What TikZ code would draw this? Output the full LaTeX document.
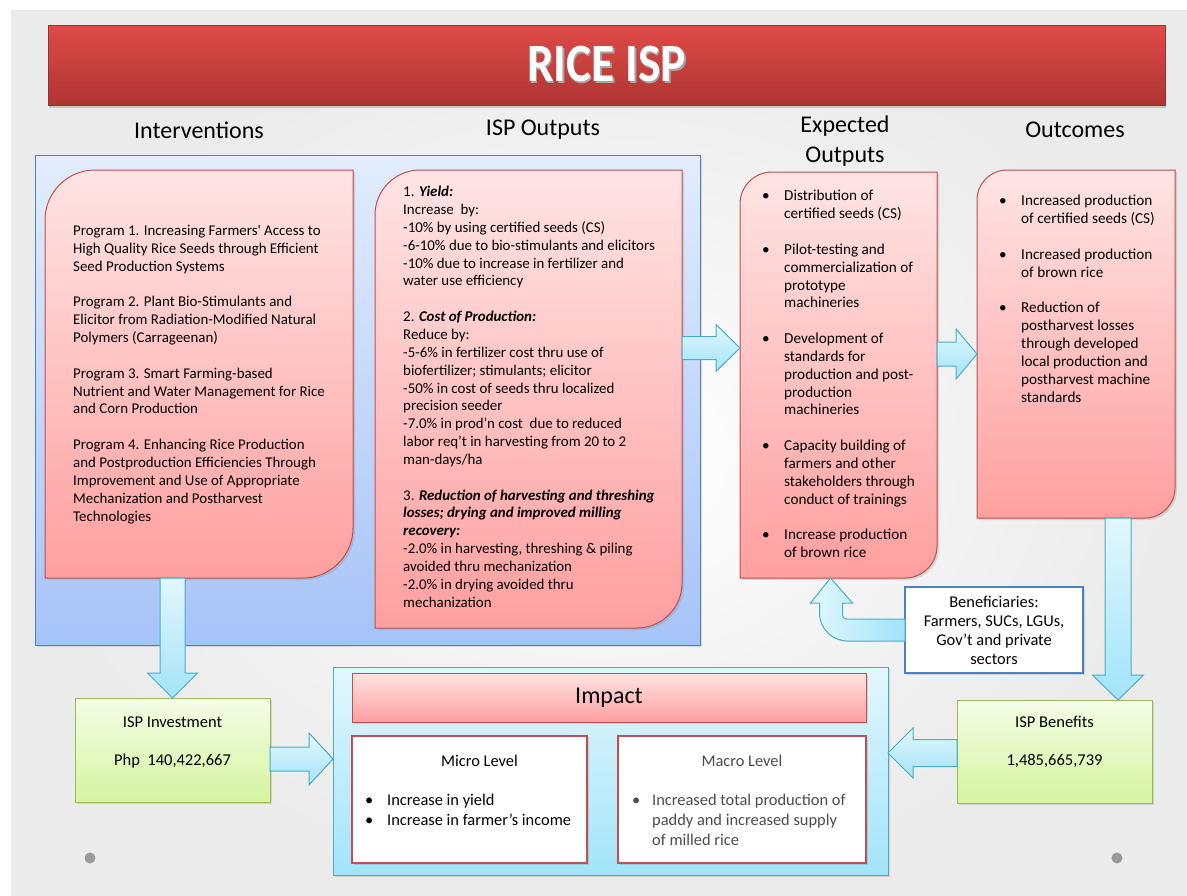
\documentclass[tikz,border=0pt]{standalone}
\usepackage{fontspec}
\setmainfont{Carlito}
\newfontfamily\bannerfont{Carlito}[FakeStretch=0.88]
\usetikzlibrary{calc,shadows}

\definecolor{redtop}{HTML}{FFE4E4}
\definecolor{redbot}{HTML}{FF9F9F}
\definecolor{redline}{HTML}{C0504D}
\definecolor{bluetop}{HTML}{E2EDFD}
\definecolor{bluebot}{HTML}{A6C3F8}
\definecolor{blueline}{HTML}{4F81BD}
\definecolor{cyantop}{HTML}{E2F7FE}
\definecolor{cyanbot}{HTML}{A2E4F9}
\definecolor{cyanline}{HTML}{4BACC6}
\definecolor{greentop}{HTML}{F4FDE6}
\definecolor{greenbot}{HTML}{D5F4A0}
\definecolor{greenline}{HTML}{9BBB59}
\definecolor{titletop}{HTML}{E04B48}
\definecolor{titlebot}{HTML}{AE3533}
\definecolor{dotgray}{HTML}{9A9A9A}

\newcommand\bodyfont{\fontsize{14.9}{17.85}\selectfont}
\newcommand\listfont{\fontsize{15.2}{17.85}\selectfont}
\newcommand\levelfont{\fontsize{16.4}{20}\selectfont}
\newcommand\bitem{\makebox[22pt][l]{\textbullet}}
\newcommand\bind{\hspace*{22pt}}

% box with rounded top-left and bottom-right corners, drawn over a named frame node
\newcommand\cornerbox[2]{%
  \path[redbox] let \p1=(#1.north west), \p2=(#1.south east) in
    ({\x1},{\y1-#2pt}) arc[start angle=180,end angle=90,radius=#2pt]
    -- ({\x2},{\y1}) -- ({\x2},{\y2+#2pt}) arc[start angle=0,end angle=-90,radius=#2pt]
    -- ({\x1},{\y2}) -- cycle;}

% horizontal block arrow: y of #1, tip at x of #2; shaft half, head half, head length
\newcommand\harrow[5]{%
  \path[blockarrow] let \p1=(#1), \p2=(#2) in
    ({\x1},{\y1+#3pt}) -- ({\x2-(#5pt)},{\y1+#3pt}) -- ({\x2-(#5pt)},{\y1+#4pt}) -- ({\x2},{\y1})
    -- ({\x2-(#5pt)},{\y1-#4pt}) -- ({\x2-(#5pt)},{\y1-#3pt}) -- ({\x1},{\y1-#3pt}) -- cycle;}

% vertical block arrow pointing down: x of #1, tip at y of #2
\newcommand\varrow[5]{%
  \path[blockarrow] let \p1=(#1), \p2=(#2) in
    ({\x1-#3pt},{\y1}) -- ({\x1-#3pt},{\y2+#5pt}) -- ({\x1-#4pt},{\y2+#5pt}) -- ({\x1},{\y2})
    -- ({\x1+#4pt},{\y2+#5pt}) -- ({\x1+#3pt},{\y2+#5pt}) -- ({\x1+#3pt},{\y1}) -- cycle;}

\begin{document}
\begin{tikzpicture}[x=1pt,y=1pt,
  frame/.style={rectangle, inner sep=0pt, outer sep=0pt, draw=none},
  softshadow/.style={drop shadow={opacity=0.25, shadow xshift=2pt, shadow yshift=-2pt}},
  redbox/.style={top color=redtop, bottom color=redbot, draw=redline, line width=1pt, softshadow},
  blockarrow/.style={top color=cyantop, bottom color=cyanbot, draw=cyanline, line width=1pt},
  heading/.style={font=\fontsize{24}{30}\selectfont, align=center, inner sep=0pt},
  body/.style={font=\bodyfont, align=left, anchor=north west, inner sep=0pt},
  boxtext/.style={font=\fontsize{16.5}{20}\selectfont, inner sep=0pt},
  bluebox/.style={frame, top color=bluetop, bottom color=bluebot, draw=blueline, line width=1pt, softshadow},
  cyanbox/.style={frame, top color=cyantop, bottom color=cyanbot, draw=cyanline, line width=1pt, softshadow},
  greenbox/.style={frame, top color=greentop, bottom color=greenbot, draw=greenline, line width=1pt, softshadow},
  pinkbar/.style={frame, top color=redtop, bottom color=redbot, draw=redline, line width=1pt, softshadow},
  whitebox/.style={frame, fill=white, line width=2.5pt, softshadow},
]
\useasboundingbox (0,0) rectangle (1187,-895);
\fill[white] (0,0) rectangle (1187,-895);
\shade[inner color=white, outer color=gray!16] (11,-10) rectangle (1187,-895);

% title banner
\node[frame, anchor=north west, minimum width=1117, minimum height=80,
      top color=titletop, bottom color=titlebot, draw=titlebot!90!black, line width=0.8pt,
      drop shadow={opacity=0.35, shadow xshift=1pt, shadow yshift=-3pt},
      font=\bannerfont\fontsize{54}{60}\selectfont\bfseries, text=white] (title) at (48,-25)
  {\rlap{\kern1.5pt\raisebox{-1.5pt}{\color{black!35}RICE ISP}}RICE ISP};

% column headings
\node[heading] (hint) at (199,-130) {Interventions};
\node[heading] (hout) at (543,-130) {ISP Outputs};
\node[heading] (hexp) at (845,-141) {Expected\\Outputs};
\node[heading] (hocm) at (1075,-130) {Outcomes};

% programme panel
\node[bluebox, anchor=north west, minimum width=665, minimum height=490] (prog) at (35,-155) {};

% frames of the rounded boxes
\node[frame, anchor=north west, minimum width=308, minimum height=408] (interv) at (45,-170) {};
\node[frame, anchor=north west, minimum width=307, minimum height=458] (outputs) at (375,-170) {};
\node[frame, anchor=north west, minimum width=197, minimum height=406] (expout) at (740,-172) {};
\node[frame, anchor=north west, minimum width=198, minimum height=348] (outcomes) at (977,-170) {};
\cornerbox{interv}{50}
\cornerbox{outputs}{45}
\cornerbox{expout}{32}
\cornerbox{outcomes}{30}

% bottom row boxes
\node[greenbox, anchor=north west, minimum width=195, minimum height=104] (invest) at (75,-698) {};
\node[greenbox, anchor=north west, minimum width=195, minimum height=103] (benefits) at (957,-700) {};
\node[cyanbox, anchor=north west, minimum width=555, minimum height=208] (impact) at (333,-667) {};
\node[pinkbar, anchor=north west, minimum width=514, minimum height=49,
      font=\fontsize{24}{26}\selectfont] (impacthead) at (352,-673) {Impact};
\node[whitebox, draw=redline, anchor=north west, minimum width=235, minimum height=127] (micro) at (352,-736) {};
\node[whitebox, draw=redline, anchor=north west, minimum width=248, minimum height=127] (macro) at (618,-736) {};
\node[whitebox, draw=blueline, anchor=north west, minimum width=178, minimum height=86,
      font=\fontsize{16.4}{19}\selectfont, align=center] (benef) at (905,-587)
  {Beneficiaries:\\Farmers, SUCs, LGUs,\\Gov’t and private\\sectors};

% block arrows between the boxes
\harrow{$(outputs.north east)+(0,-178)$}{expout.west}{11.5}{23.5}{24}
\harrow{$(expout.north east)+(0,-182)$}{outcomes.west}{12}{25}{21}
\varrow{invest.north |- interv.south}{invest.north}{12.5}{25}{25}
\varrow{$(outcomes.south east)+(-57,0)$}{benefits.north}{13}{25.5}{25}
\harrow{$(invest.east)+(0,-9)$}{impact.west}{12}{26}{24}
\harrow{$(benefits.west)+(0,-1.5)$}{impact.east}{13.5}{25}{-25}
% bent arrow from the beneficiaries back up to the expected outputs
\path[draw=cyanline, line width=1pt, left color=cyantop, right color=cyanbot]
  let \p1=($(benef.west)+(0,-1)$), \p2=($(expout.south)+(-8,0)$) in
  ({\x1},{\y1+12pt}) -- ({\x2+16pt},{\y1+12pt}) arc[start angle=270,end angle=180,radius=4pt]
  -- ({\x2+12pt},{\y2-25pt}) -- ({\x2+22pt},{\y2-25pt}) -- ({\x2},{\y2}) -- ({\x2-20pt},{\y2-25pt})
  -- ({\x2-11pt},{\y2-25pt}) -- ({\x2-11pt},{\y1+18pt}) arc[start angle=180,end angle=270,radius=28pt]
  -- ({\x1},{\y1-10pt}) -- cycle;

% texts
\node[body] (intervtxt) at (73,-225) {%
Program 1. Increasing Farmers\textquotesingle{} Access to\\
High Quality Rice Seeds through Efficient\\
Seed Production Systems\\[17.85pt]
Program 2. Plant Bio-Stimulants and\\
Elicitor from Radiation-Modified Natural\\
Polymers (Carrageenan)\\[17.85pt]
Program 3. Smart Farming-based\\
Nutrient and Water Management for Rice\\
and Corn Production\\[17.85pt]
Program 4. Enhancing Rice Production\\
and Postproduction Efficiencies Through\\
Improvement and Use of Appropriate\\
Mechanization and Postharvest\\
Technologies};

\node[body] (outputstxt) at (403,-186) {%
1. \textbf{\textit{Yield:}}\\
Increase~ by:\\
-10\% by using certified seeds (CS)\\
-6-10\% due to bio-stimulants and elicitors\\
-10\% due to increase in fertilizer and\\
water use efficiency\\[17.85pt]
2. \textbf{\textit{Cost of Production:}}\\
Reduce by:\\
-5-6\% in fertilizer cost thru use of\\
biofertilizer; stimulants; elicitor\\
-50\% in cost of seeds thru localized\\
precision seeder\\
-7.0\% in prod’n cost~ due to reduced\\
labor req’t in harvesting from 20 to 2\\
man-days/ha\\[17.85pt]
3. \textbf{\textit{Reduction of harvesting and threshing}}\\
\textbf{\textit{losses; drying and improved milling}}\\
\textbf{\textit{recovery:}}\\
-2.0\% in harvesting, threshing \& piling\\
avoided thru mechanization\\
-2.0\% in drying avoided thru\\
mechanization};

\node[body, font=\listfont] (expouttxt) at (762,-190) {%
\bitem Distribution of\\
\bind certified seeds (CS)\\[17.85pt]
\bitem Pilot-testing and\\
\bind commercialization of\\
\bind prototype\\
\bind machineries\\[17.85pt]
\bitem Development of\\
\bind standards for\\
\bind production and post-\\
\bind production\\
\bind machineries\\[17.85pt]
\bitem Capacity building of\\
\bind farmers and other\\
\bind stakeholders through\\
\bind conduct of trainings\\[17.85pt]
\bitem Increase production\\
\bind of brown rice};

\node[body, font=\listfont] (outcomestxt) at (999,-195) {%
\bitem Increased production\\
\bind of certified seeds (CS)\\[17.85pt]
\bitem Increased production\\
\bind of brown rice\\[17.85pt]
\bitem Reduction of\\
\bind postharvest losses\\
\bind through developed\\
\bind local production and\\
\bind postharvest machine\\
\bind standards};

\node[boxtext] (investtitle) at (172.5,-722) {ISP Investment};
\node[boxtext] (investval) at (172.5,-761) {Php~ 140,422,667};
\node[boxtext] (benefitstitle) at (1054.5,-722) {ISP Benefits};
\node[boxtext] (benefitsval) at (1054.5,-761) {1,485,665,739};

\node[font=\levelfont, inner sep=0pt] (microtitle) at (479.5,-761) {Micro Level};
\node[body, font=\levelfont] (microtxt) at (365,-794) {%
\makebox[22pt][l]{\textbullet}Increase in yield\\
\makebox[22pt][l]{\textbullet}Increase in farmer’s income};
\node[font=\levelfont, inner sep=0pt, text=black!70] (macrotitle) at (742,-761) {Macro Level};
\node[body, font=\levelfont, text=black!70] (macrotxt) at (632,-794) {%
\makebox[20pt][l]{\textbullet}Increased total production of\\
\hspace*{20pt}paddy and increased supply\\
\hspace*{20pt}of milled rice};

% slide markers
\fill[dotgray] (90,-858) circle[radius=5.5] (1117,-858) circle[radius=5.5];
\end{tikzpicture}
\end{document}
